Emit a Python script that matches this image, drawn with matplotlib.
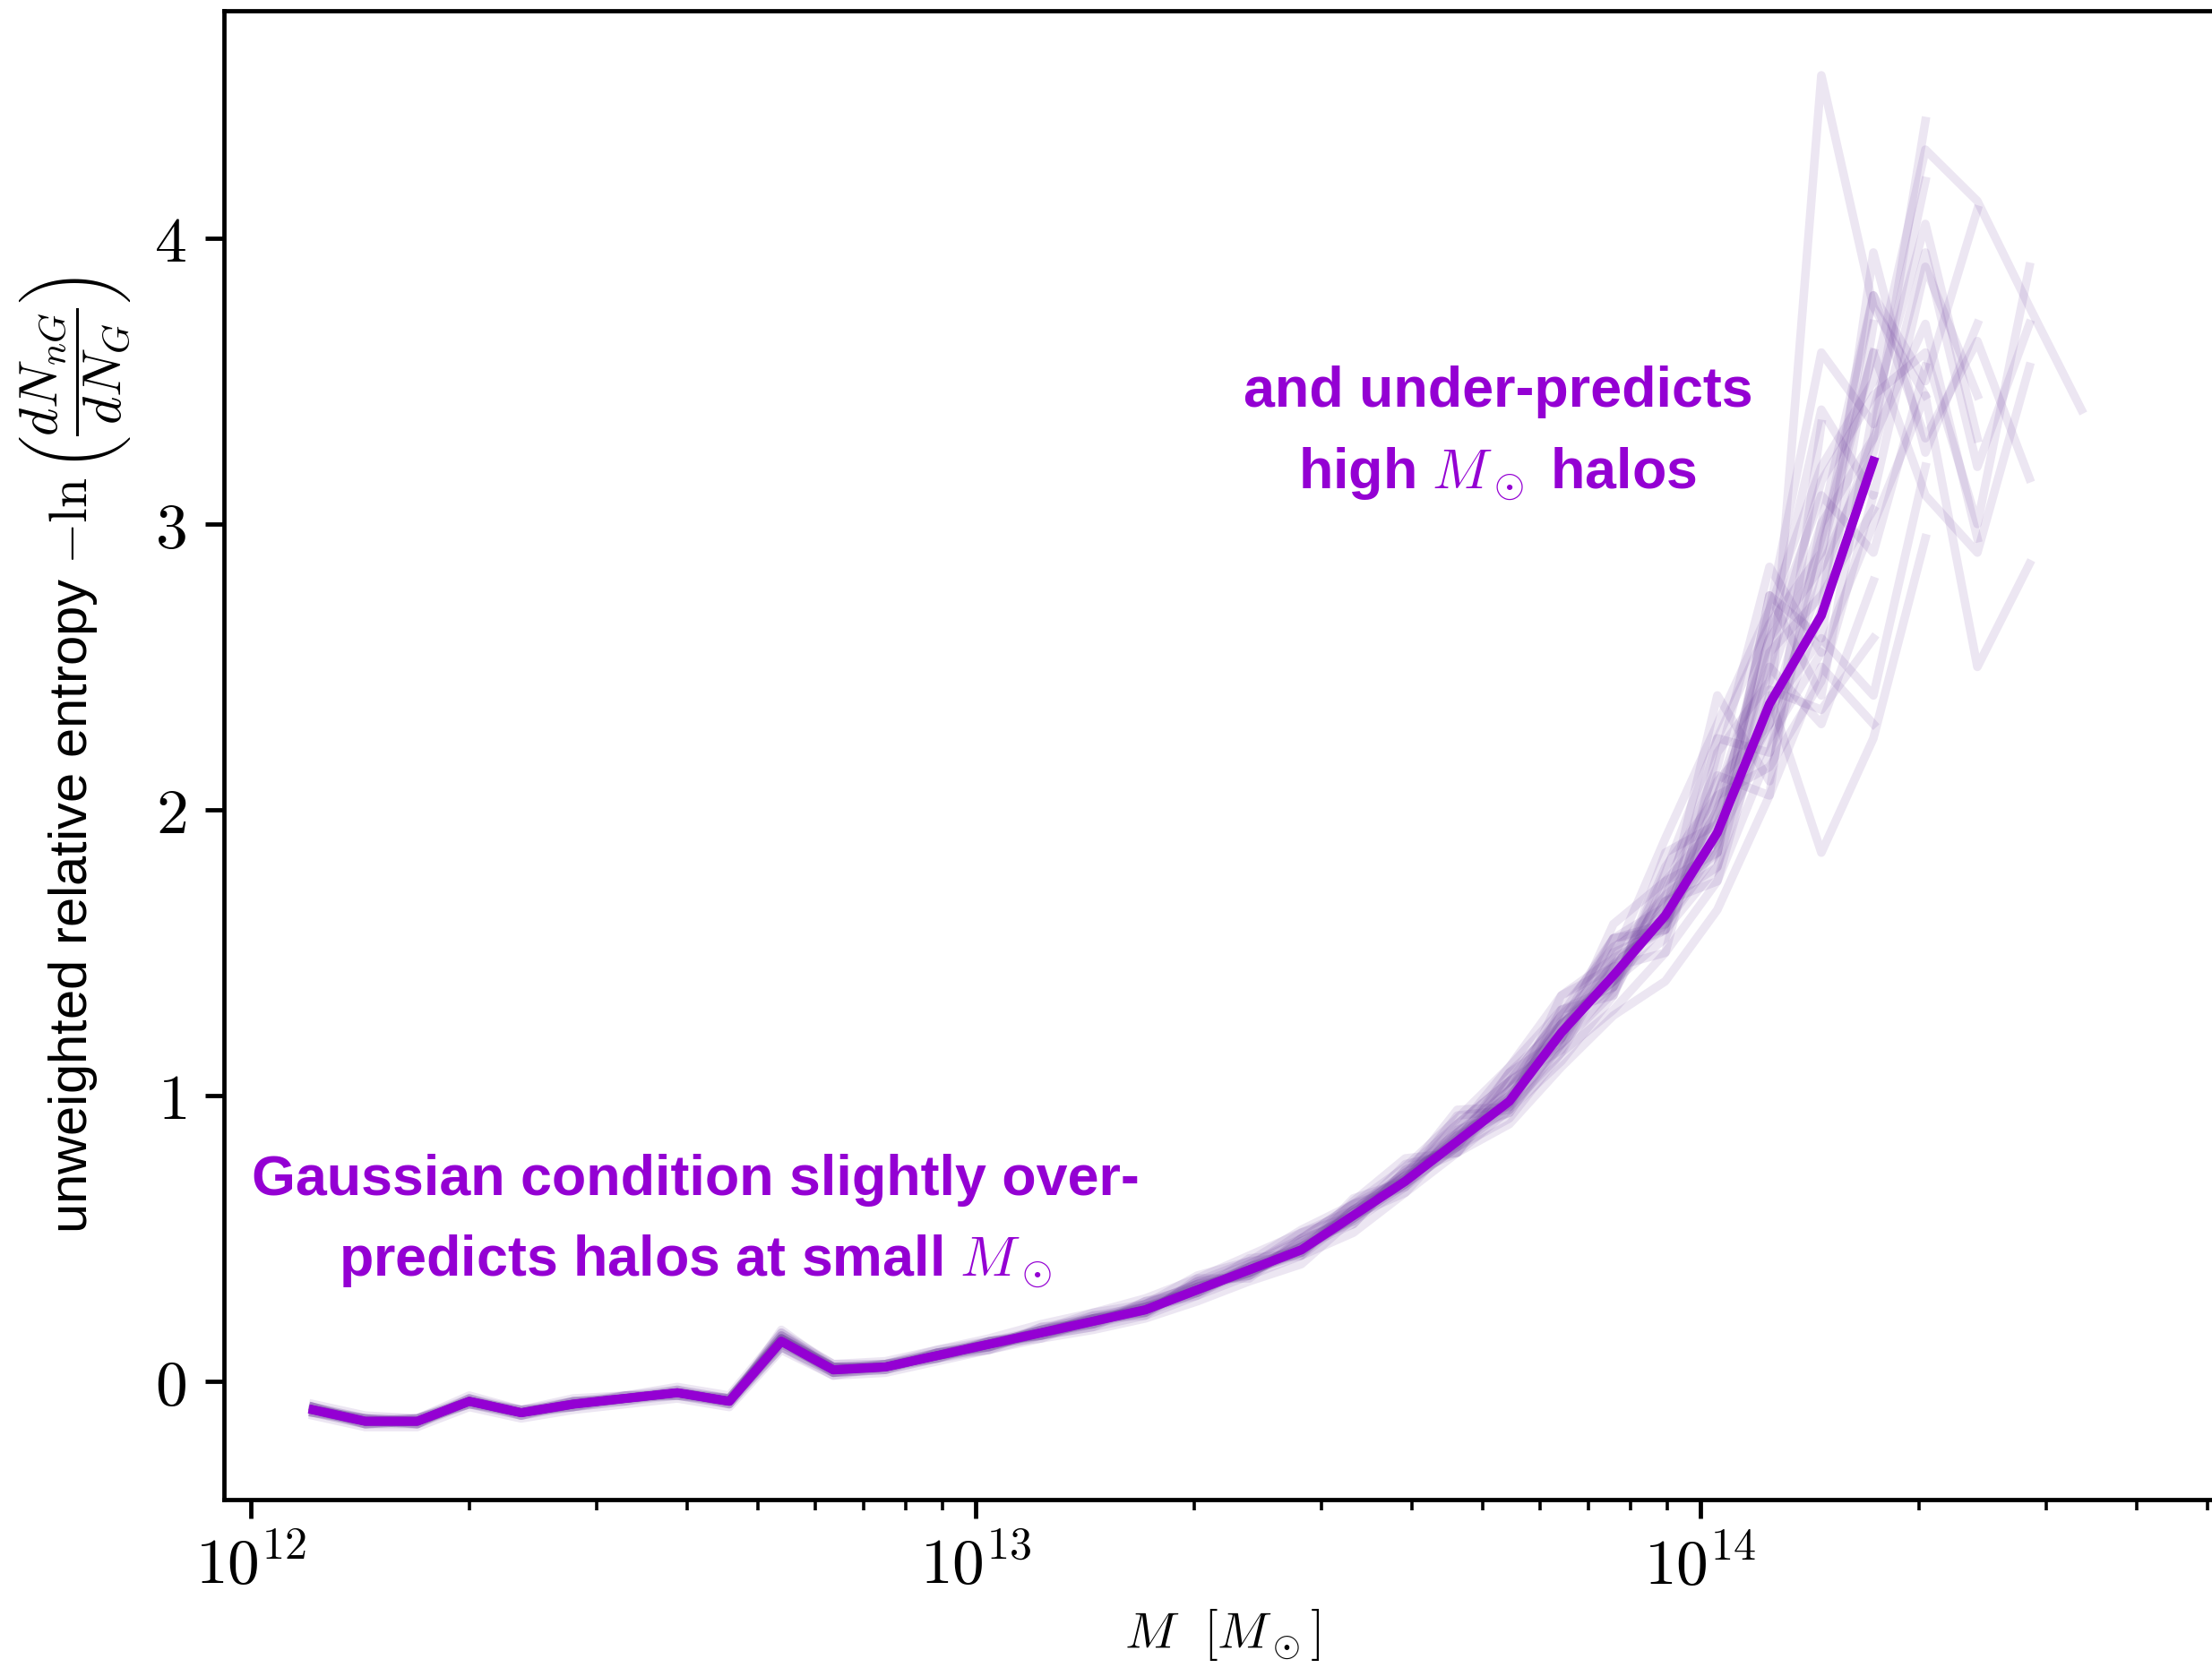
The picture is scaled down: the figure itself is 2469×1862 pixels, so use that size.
import numpy as np
import matplotlib.pyplot as plt
from matplotlib.ticker import FixedLocator, FuncFormatter, NullFormatter

plt.rcParams['mathtext.fontset'] = 'cm'
plt.rcParams['font.family'] = ['Liberation Sans', 'DejaVu Sans']

# halo mass bins [M_sun]
mass = np.array([1.219e12, 1.438e12, 1.696e12, 2.001e12, 2.360e12, 2.784e12, 3.284e12,
                 3.875e12, 4.571e12, 5.393e12, 6.361e12, 7.505e12, 8.851e12, 1.044e13,
                 1.232e13, 1.453e13, 1.714e13, 2.022e13, 2.385e13, 2.814e13, 3.319e13,
                 3.915e13, 4.618e13, 5.449e13, 6.427e13, 7.583e13, 8.943e13, 1.055e14,
                 1.245e14, 1.468e14, 1.732e14, 2.043e14, 2.410e14, 2.843e14, 3.354e14])

# mean curve
mean_entropy = [-0.10, -0.14, -0.14, -0.07, -0.11, -0.08, -0.06, -0.04, -0.07, 0.14,
                0.04, 0.05, 0.09, 0.13, 0.17, 0.21, 0.25, 0.32, 0.39, 0.46,
                0.58, 0.70, 0.84, 0.98, 1.22, 1.42, 1.63, 1.92, 2.37, 2.68, 3.22]

# individual realisations (faint lines)
f01 = [-0.09, -0.13, -0.15, -0.06, -0.11, -0.07, -0.06, -0.03, -0.06, 0.16,
       0.05, 0.06, 0.10, 0.12, 0.18, 0.23, 0.26, 0.30, 0.41, 0.49,
       0.55, 0.74, 0.90, 1.05, 1.18, 1.50, 1.70, 2.10, 2.30, 2.95, 3.60]
f02 = [-0.11, -0.15, -0.14, -0.08, -0.12, -0.08, -0.05, -0.05, -0.08, 0.12,
       0.03, 0.04, 0.08, 0.14, 0.16, 0.20, 0.27, 0.34, 0.37, 0.50,
       0.62, 0.68, 0.88, 1.10, 1.30, 1.38, 1.80, 2.05, 2.60, 3.10, 2.90, 3.55]
f03 = [-0.10, -0.14, -0.13, -0.07, -0.10, -0.09, -0.07, -0.04, -0.06, 0.15,
       0.05, 0.05, 0.09, 0.11, 0.19, 0.22, 0.24, 0.35, 0.42, 0.44,
       0.63, 0.78, 0.80, 1.02, 1.25, 1.55, 1.60, 1.85, 2.75, 2.40, 3.40, 4.05, 3.30]
f04 = [-0.10, -0.13, -0.14, -0.07, -0.11, -0.08, -0.06, -0.04, -0.07, 0.17,
       0.04, 0.06, 0.10, 0.14, 0.16, 0.19, 0.28, 0.33, 0.40, 0.52,
       0.60, 0.72, 0.95, 0.96, 1.35, 1.45, 1.50, 2.20, 2.45, 3.00, 3.80, 3.30, 3.64, 3.16]
f05 = [-0.09, -0.14, -0.14, -0.06, -0.11, -0.08, -0.05, -0.04, -0.07, 0.13,
       0.04, 0.05, 0.09, 0.13, 0.18, 0.21, 0.25, 0.31, 0.38, 0.47,
       0.57, 0.71, 0.86, 1.00, 1.20, 1.60, 1.75, 1.95, 2.70, 3.20, 3.50, 4.31, 4.13, 3.76, 3.40]
f06 = [-0.10, -0.14, -0.14, -0.07, -0.11, -0.08, -0.06, -0.04, -0.07, 0.14,
       0.04, 0.05, 0.09, 0.13, 0.17, 0.21, 0.26, 0.33, 0.38, 0.45,
       0.60, 0.69, 0.82, 0.92, 1.15, 1.48, 1.58, 1.80, 2.50, 2.30, 2.80]
f07 = [-0.11, -0.14, -0.15, -0.07, -0.12, -0.08, -0.06, -0.05, -0.07, 0.15,
       0.05, 0.05, 0.08, 0.12, 0.17, 0.22, 0.25, 0.31, 0.40, 0.47,
       0.56, 0.70, 0.85, 1.05, 1.28, 1.45, 1.65, 2.00, 2.30, 4.57, 3.76, 3.45]
f08 = [-0.10, -0.15, -0.14, -0.08, -0.11, -0.09, -0.06, -0.04, -0.08, 0.14,
       0.03, 0.04, 0.10, 0.13, 0.17, 0.20, 0.24, 0.34, 0.39, 0.48,
       0.59, 0.73, 0.83, 0.99, 1.25, 1.40, 1.72, 2.15, 2.85, 2.55, 3.00, 3.45, 2.50, 2.86]
f09 = [-0.10, -0.13, -0.14, -0.07, -0.10, -0.08, -0.06, -0.04, -0.06, 0.14,
       0.05, 0.06, 0.09, 0.14, 0.17, 0.22, 0.26, 0.32, 0.38, 0.46,
       0.59, 0.70, 0.86, 0.97, 1.18, 1.38, 1.68, 1.75, 2.20, 2.70, 3.95, 3.25, 3.70]
f10 = [-0.10, -0.14, -0.14, -0.07, -0.11, -0.08, -0.06, -0.04, -0.07, 0.14,
       0.04, 0.05, 0.09, 0.13, 0.17, 0.21, 0.25, 0.32, 0.39, 0.46,
       0.58, 0.70, 0.84, 1.02, 1.30, 1.52, 1.62, 1.98, 2.42, 2.35, 2.60]
f11 = [-0.09, -0.14, -0.13, -0.07, -0.11, -0.07, -0.06, -0.04, -0.07, 0.15,
       0.04, 0.05, 0.09, 0.13, 0.16, 0.21, 0.25, 0.33, 0.39, 0.44,
       0.58, 0.76, 0.80, 0.95, 1.12, 1.35, 1.85, 1.95, 2.30, 2.80, 3.30, 4.41]
f12 = [-0.10, -0.14, -0.14, -0.07, -0.11, -0.08, -0.06, -0.04, -0.07, 0.14,
       0.04, 0.05, 0.09, 0.12, 0.17, 0.21, 0.25, 0.32, 0.39, 0.46,
       0.58, 0.70, 0.84, 1.08, 1.25, 1.40, 1.55, 2.05, 2.50, 3.15, 3.45, 3.60, 3.00, 3.90]
f13 = [-0.08, -0.12, -0.13, -0.05, -0.10, -0.06, -0.05, -0.02, -0.05, 0.17,
       0.06, 0.07, 0.11, 0.15, 0.20, 0.24, 0.29, 0.36, 0.44, 0.52,
       0.58, 0.70, 0.88, 0.94, 1.20, 1.45, 1.62, 1.90, 2.25, 2.55]
f14 = [-0.12, -0.16, -0.16, -0.09, -0.13, -0.10, -0.08, -0.06, -0.09, 0.11,
       0.02, 0.03, 0.07, 0.11, 0.15, 0.18, 0.22, 0.28, 0.35, 0.41,
       0.57, 0.69, 0.82, 0.96, 1.15, 1.30, 1.50, 1.75, 2.40, 1.85, 2.25, 2.95]
f15 = [-0.09, -0.15, -0.13, -0.08, -0.10, -0.09, -0.05, -0.05, -0.06, 0.15,
       0.03, 0.06, 0.08, 0.14, 0.16, 0.23, 0.24, 0.35, 0.37, 0.49,
       0.58, 0.72, 0.84, 0.98, 1.22, 1.42, 1.63, 2.40, 2.10, 3.00, 3.30, 3.70, 2.95]
f16 = [-0.11, -0.13, -0.15, -0.06, -0.12, -0.07, -0.07, -0.03, -0.08, 0.18,
       0.05, 0.04, 0.10, 0.12, 0.19, 0.20, 0.28, 0.31, 0.43, 0.45,
       0.60, 0.73, 0.87, 1.00, 1.24, 1.46, 1.60, 1.88, 2.55, 2.75, 3.05]
f17 = [-0.10, -0.14, -0.14, -0.07, -0.11, -0.08, -0.06, -0.04, -0.07, 0.12,
       0.02, 0.05, 0.08, 0.13, 0.15, 0.22, 0.23, 0.36, 0.36, 0.50,
       0.56, 0.68, 0.83, 0.97, 1.25, 1.38, 1.78, 2.25, 2.65, 2.90, 3.60, 3.10, 2.90, 3.55]
f18 = [-0.09, -0.13, -0.13, -0.06, -0.10, -0.07, -0.05, -0.03, -0.06, 0.16,
       0.06, 0.06, 0.11, 0.14, 0.18, 0.24, 0.27, 0.37, 0.42, 0.53,
       0.62, 0.71, 0.90, 1.05, 1.28, 1.55, 1.66, 2.00, 2.60, 3.40, 3.10, 3.90, 3.45]
f19 = [-0.11, -0.15, -0.15, -0.08, -0.12, -0.09, -0.07, -0.05, -0.08, 0.12,
       0.03, 0.04, 0.08, 0.11, 0.16, 0.19, 0.23, 0.30, 0.37, 0.44,
       0.52, 0.66, 0.80, 0.90, 1.10, 1.28, 1.40, 1.65, 2.05, 2.50, 2.30]
f20 = [-0.10, -0.14, -0.15, -0.07, -0.11, -0.08, -0.06, -0.04, -0.07, 0.15,
       0.05, 0.05, 0.10, 0.13, 0.18, 0.22, 0.27, 0.34, 0.41, 0.50,
       0.62, 0.75, 0.92, 1.10, 1.35, 1.48, 1.90, 2.30, 2.70, 3.60, 3.35, 4.20]
f21 = [-0.10, -0.13, -0.14, -0.07, -0.11, -0.08, -0.06, -0.04, -0.07, 0.16,
       0.04, 0.06, 0.09, 0.14, 0.17, 0.21, 0.26, 0.31, 0.40, 0.45,
       0.64, 0.70, 0.93, 0.95, 1.30, 1.35, 1.75, 1.85, 2.75, 2.60, 3.70]
f22 = [-0.11, -0.14, -0.14, -0.07, -0.11, -0.09, -0.06, -0.04, -0.07, 0.13,
       0.04, 0.05, 0.09, 0.13, 0.17, 0.20, 0.25, 0.33, 0.38, 0.47,
       0.55, 0.74, 0.82, 1.08, 1.20, 1.55, 1.58, 2.25, 2.20, 2.90, 3.80, 3.50, 4.10]
f23 = [-0.10, -0.15, -0.14, -0.08, -0.11, -0.08, -0.06, -0.05, -0.07, 0.14,
       0.03, 0.05, 0.09, 0.12, 0.17, 0.21, 0.24, 0.31, 0.39, 0.45,
       0.58, 0.66, 0.86, 0.94, 1.18, 1.36, 1.68, 1.80, 2.35, 2.60, 2.40, 3.20]
f24 = [-0.09, -0.14, -0.13, -0.07, -0.11, -0.07, -0.06, -0.04, -0.06, 0.15,
       0.05, 0.05, 0.10, 0.13, 0.18, 0.21, 0.26, 0.32, 0.40, 0.47,
       0.60, 0.72, 0.80, 1.05, 1.16, 1.50, 1.58, 2.12, 2.05, 3.35]
f25 = [-0.10, -0.14, -0.14, -0.07, -0.11, -0.08, -0.06, -0.04, -0.07, 0.14,
       0.04, 0.05, 0.09, 0.13, 0.17, 0.22, 0.25, 0.32, 0.39, 0.46,
       0.57, 0.69, 0.87, 1.02, 1.22, 1.44, 1.70, 1.85, 2.60, 2.85, 3.25, 3.95, 3.20, 3.70]
f26 = [-0.10, -0.14, -0.14, -0.07, -0.11, -0.08, -0.06, -0.04, -0.07, 0.14,
       0.04, 0.05, 0.09, 0.13, 0.16, 0.21, 0.25, 0.32, 0.38, 0.46,
       0.59, 0.71, 0.85, 0.99, 1.26, 1.40, 1.60, 2.05, 2.15, 2.45, 3.10]
realisations = [f01, f02, f03, f04, f05, f06, f07, f08, f09, f10, f11, f12, f13,
                f14, f15, f16, f17, f18, f19, f20, f21, f22, f23, f24, f25, f26]

W, H, dpi = 2469, 1862, 430
fig = plt.figure(figsize=(W / dpi, H / dpi), dpi=dpi)
ax = fig.add_axes([250 / W, 188 / H, 2228 / W, 1662 / H])

for r in realisations:
    ax.plot(mass[:len(r)], r, color='rebeccapurple', alpha=0.12, lw=1.6)
ax.plot(mass[:len(mean_entropy)], mean_entropy, color='darkviolet', lw=1.7)

ax.set_xscale('log')
ax.set_xlim(9.18e11, 5.21e14)
ax.set_ylim(-0.414, 4.796)
ax.spines['right'].set_visible(False)

ax.xaxis.set_major_formatter(FuncFormatter(lambda v, p: r'$10^{%d}$' % round(np.log10(v))))
ax.xaxis.set_minor_formatter(NullFormatter())
ax.yaxis.set_major_locator(FixedLocator([0, 1, 2, 3, 4]))
ax.yaxis.set_major_formatter(FuncFormatter(lambda v, p: r'$%d$' % round(v)))
ax.tick_params(labelsize=12)

ax.set_xlabel(r'$M\ \ [M_\odot]$', fontsize=9.5)
ax.xaxis.set_label_coords(0.5, -0.072)
ax.set_ylabel(r'unweighted relative entropy $-\ln\left(\dfrac{dN_{nG}}{dN_G}\right)$',
              fontsize=10)

kw = dict(transform=ax.transAxes, ha='center', va='baseline', color='darkviolet',
          fontsize=10.5, fontweight='bold')
ax.text(0.2361, 0.2046, 'Gaussian condition slightly over-', **kw)
ax.text(0.2361, 0.1504, r'predicts halos at small $M_\odot$', **kw)
ax.text(0.6382, 0.7340, 'and under-predicts', **kw)
ax.text(0.6382, 0.6793, r'high $M_\odot$ halos', **kw)

fig.savefig('out.png', dpi=dpi)
